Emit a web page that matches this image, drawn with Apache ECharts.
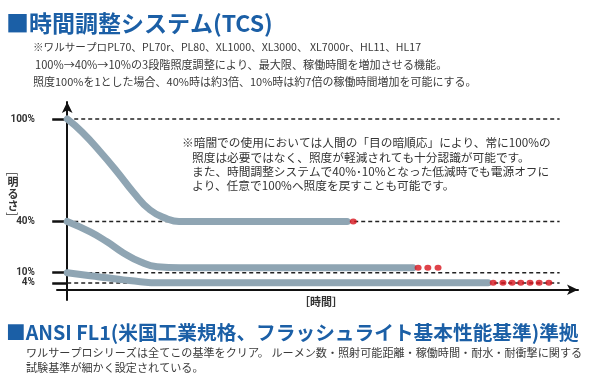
<!DOCTYPE html>
<html><head><meta charset="utf-8">
<script src="https://cdn.jsdelivr.net/npm/echarts@6/dist/echarts.min.js"></script>
<style>html,body{margin:0;padding:0;background:#fff}#c{width:590px;height:388px}</style>
</head><body><div id="c"></div>
<script>
// ---- data ----
const levels = [100, 40, 10, 4];
const guideEndX = 96.4;
const curveHigh = [[0,100],[2.9,92.4],[6.5,80.7],[9.8,69],[12.9,57.3],[16.2,46.8],[19.6,41.5],[21.9,40],[54.8,40]];
const curveMid  = [[0,40],[4.5,33.9],[7.8,28.1],[11,21.6],[14.3,16.4],[17.6,13.5],[22.1,12.9],[67.7,12.9]];
const curveLow  = [[0,10],[4.5,8.2],[7.8,7],[11,5.8],[14.3,4.7],[17.6,4.1],[82.4,4.1]];
const dotsHighX = [56];
const dotsMidX  = [68.7,70.6,72.6];
const dotsLowX  = [83.4,85.3,87.1,88.8,90.6,92.4,94.3];
const dotsHighY = 40, dotsMidY = 12.9, dotsLowY = 4.1;

const titleText = '■時間調整システム(TCS)';
const subLines = [
  '※ワルサープロPL70、PL70r、PL80、XL1000、XL3000、 XL7000r、HL11、HL17',
  '100%→40%→10%の3段階照度調整により、最大限、稼働時間を増加させる機能。',
  '照度100%を1とした場合、40%時は約3倍、10%時は約7倍の稼働時間増加を可能にする。'
];
const noteLines = [
  '※暗闇での使用においては人間の「目の暗順応」により、常に100%の',
  '照度は必要ではなく、照度が軽減されても十分認識が可能です。',
  'また、時間調整システムで40%･10%となった低減時でも電源オフに',
  'より、任意で100%へ照度を戻すことも可能です。'
];
const yName = '明\nる\nさ';
const yBrackets = ['[', ']'];
const xName = '［時間］';
const title2 = '■ANSI FL1(米国工業規格、フラッシュライト基本性能基準)準拠';
const bottomLines = [
  'ワルサープロシリーズは全てこの基準をクリア。 ルーメン数・照射可能距離・稼働時間・耐水・耐衝撃に関する',
  '試験基準が細かく設定されている。'
];

// ---- chart ----
const JP = '"Noto Sans CJK JP"';
const chart = echarts.init(document.getElementById('c'), null, {renderer:'canvas'});
const series = [];
levels.forEach(lv => series.push({
  type:'line', data:[[0,lv],[guideEndX,lv]], showSymbol:false, silent:true, z:1,
  lineStyle:{color:'#222', width:1.5, type:[4,3]}
}));
[curveHigh, curveMid, curveLow].forEach(c => series.push({
  type:'line', data:c, showSymbol:false, smooth:0.5, z:3,
  lineStyle:{color:'#8fa5b3', width:7, cap:'round', join:'round'}
}));
[[dotsHighX,dotsHighY],[dotsMidX,dotsMidY],[dotsLowX,dotsLowY]].forEach(([xs,y]) => series.push({
  type:'scatter', data:xs.map(x=>[x,y]), symbol:'circle', symbolSize:[7,6], z:4,
  itemStyle:{color:'#d7141d'}
}));

const graphic = [];
graphic.push({type:'text', x:6, y:23, style:{text:titleText, font:'bold 23px '+JP, fill:'#1b5fa6', align:'left', verticalAlign:'middle'}});
[[33,47,10.6],[35,65,11.1],[33,82,11]].forEach(([x,y,f],i)=>graphic.push({type:'text', x, y, style:{text:subLines[i], font:f+'px '+JP, fill:'#3a3a3a', align:'left', verticalAlign:'middle'}}));
[[182,143],[192,158],[192,172],[192,186]].forEach(([x,y],i)=>graphic.push({type:'text', x, y, z:10, style:{text:noteLines[i], font:'11.7px '+JP, fill:'#333', align:'left', verticalAlign:'middle'}}));
graphic.push({type:'text', x:13, y:194, style:{text:yName, font:'bold 11px '+JP, lineHeight:12, fill:'#333', align:'center', verticalAlign:'middle'}});
graphic.push({type:'text', x:13, y:174, rotation:-Math.PI/2, style:{text:yBrackets[0], font:'12px '+JP, fill:'#333', align:'center', verticalAlign:'middle'}});
graphic.push({type:'text', x:13, y:214, rotation:-Math.PI/2, style:{text:yBrackets[1], font:'12px '+JP, fill:'#333', align:'center', verticalAlign:'middle'}});
graphic.push({type:'text', x:321, y:302, style:{text:xName, font:'bold 11px '+JP, fill:'#333', align:'center', verticalAlign:'middle'}});
graphic.push({type:'text', x:6, y:333, style:{text:title2, font:'bold 19.7px '+JP, fill:'#1b5fa6', align:'left', verticalAlign:'middle'}});
[[26,353],[26,368]].forEach(([x,y],i)=>graphic.push({type:'text', x, y, style:{text:bottomLines[i], font:'11.1px '+JP, fill:'#3a3a3a', align:'left', verticalAlign:'middle'}}));

chart.setOption({
  animation:false,
  backgroundColor:'#fff',
  grid:{left:57, right:12, top:102, bottom:88, containLabel:false},
  xAxis:{type:'value', min:-2, max:100,
    axisLine:{onZero:true, symbol:['none','arrow'], symbolSize:[8,11], lineStyle:{color:'#111', width:2}},
    axisTick:{show:false}, axisLabel:{show:false}, splitLine:{show:false}},
  yAxis:{type:'value', min:-6, max:110,
    axisLine:{onZero:true, symbol:['none','arrow'], symbolSize:[8,11], lineStyle:{color:'#111', width:2}},
    axisTick:{show:true, customValues:levels, length:15, lineStyle:{color:'#111', width:2.5}},
    axisLabel:{show:true, customValues:levels, margin:22, formatter:v=>v+'%', fontWeight:'bold', fontSize:10, fontFamily:'Roboto', color:'#333'},
    splitLine:{show:false}},
  series,
  graphic
});
</script></body></html>
